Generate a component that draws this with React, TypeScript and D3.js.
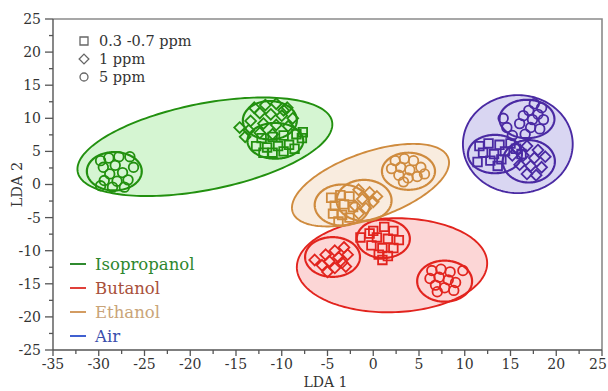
import * as React from "react";
import * as d3 from "d3";

type P = [number, number];

// confidence ellipses: center, semi-axis vectors (data units)
interface Ell {
  c: P;
  u: P;
  v: P;
}

const groups = ["Isopropanol", "Butanol", "Ethanol", "Air"];
const concentrations = ["0.3 -0.7 ppm", "1 ppm", "5 ppm"];

const bigEllipses: Ell[] = [
  { c: [-18.4, 5.7], u: [13.9, 3.8], v: [0.9, -6.4] },
  { c: [2.05, -12.2], u: [10.4, 0.3], v: [0, 7.1] },
  { c: [-0.3, -0.1], u: [8.5, 4.1], v: [1.19, -4.7] },
  { c: [15.8, 6.1], u: [6.0, 0], v: [0, 7.4] },
];

// small clusters: [group, concentration index, ellipse]
const clusters: [number, number, Ell][] = [
  [0, 2, { c: [-28.3, 2.0], u: [3.0, 0], v: [0, 2.9] }],
  [0, 1, { c: [-11.3, 9.7], u: [2.95, 0], v: [0, 2.9] }],
  [0, 0, { c: [-10.7, 6.6], u: [3.05, 0], v: [0, 2.7] }],
  [1, 1, { c: [-4.45, -10.95], u: [3.0, 0], v: [0, 3.0] }],
  [1, 0, { c: [1.1, -8.2], u: [2.9, 0], v: [0, 2.9] }],
  [1, 2, { c: [7.8, -14.6], u: [3.0, 0], v: [0, 3.1] }],
  [2, 0, { c: [-3.4, -3.1], u: [3.0, 0], v: [0, 3.1] }],
  [2, 1, { c: [-1.0, -2.4], u: [3.0, 0], v: [0, 3.1] }],
  [2, 2, { c: [3.85, 2.0], u: [2.9, 0], v: [0, 2.8] }],
  [3, 2, { c: [16.8, 9.9], u: [3.0, 0], v: [0, 2.9] }],
  [3, 0, { c: [13.3, 4.6], u: [2.95, 0], v: [0, 2.9] }],
  [3, 1, { c: [17.0, 3.5], u: [2.85, 0], v: [0, 3.2] }],
];

// points per group and concentration (0: squares, 1: diamonds, 2: circles)
const isoCircles: P[] = [
  [-29.8, 3.6], [-28.9, 4.0], [-27.8, 4.2], [-26.6, 4.2], [-29.5, 2.6], [-28.2, 2.9],
  [-27.4, 1.8], [-28.8, 1.6], [-29.4, 0.6], [-28.0, 0.5], [-26.8, 0.7], [-27.2, -0.4],
  [-28.5, -0.4], [-29.8, -0.2], [-26.2, 2.6],
];
const isoDiamonds: P[] = [
  [-13.0, 11.6], [-11.8, 12.0], [-10.6, 12.2], [-9.4, 11.6], [-12.4, 10.8], [-11.2, 10.6],
  [-10.0, 10.4], [-8.8, 10.0], [-13.4, 9.6], [-12.0, 9.2], [-10.6, 9.0], [-9.3, 8.8],
  [-14.6, 8.6], [-13.6, 8.2], [-12.4, 7.8], [-11.0, 7.6], [-14.0, 7.2], [-9.8, 11.2],
];
const isoSquares: P[] = [
  [-12.2, 7.0], [-11.0, 7.2], [-9.8, 7.4], [-8.4, 7.6], [-12.8, 5.8], [-11.6, 5.6],
  [-10.4, 5.8], [-9.2, 6.0], [-7.8, 7.0], [-11.0, 4.8], [-9.8, 5.0], [-12.0, 4.8],
  [-8.6, 5.4], [-7.7, 7.9],
];
const ethCircles: P[] = [
  [2.4, 3.6], [3.4, 3.9], [4.4, 3.6], [2.0, 2.4], [3.0, 2.6], [4.0, 2.2], [5.2, 2.6],
  [2.8, 1.4], [3.8, 1.0], [4.8, 1.2], [5.6, 1.6], [3.3, 0.4],
];
const ethSquares: P[] = [
  [-4.6, -2.0], [-3.6, -1.6], [-2.6, -1.8], [-4.2, -3.2], [-3.2, -3.0], [-2.2, -3.4],
  [-4.4, -4.4], [-3.4, -4.6], [-2.6, -5.0], [-3.8, -5.6],
];
const ethDiamonds: P[] = [
  [-1.6, -0.8], [-0.4, -1.2], [-1.2, -2.2], [0.0, -2.6], [-2.0, -3.2], [-0.8, -3.6],
  [0.4, -1.8], [-1.6, -4.4],
];
const butDiamonds: P[] = [
  [-3.2, -9.5], [-4.2, -10.0], [-2.8, -10.6], [-5.2, -10.6], [-3.8, -11.0], [-6.4, -11.4],
  [-4.8, -11.6], [-3.4, -11.8], [-5.6, -12.2], [-4.2, -12.6], [-3.0, -12.4], [-5.0, -13.2],
];
const butSquares: P[] = [
  [-1.4, -8.0], [0.0, -7.0], [1.2, -6.4], [2.2, -7.0], [0.4, -8.0], [1.6, -8.2], [2.8, -8.4],
  [-0.2, -9.2], [1.0, -9.6], [2.2, -9.6], [0.6, -10.6], [1.6, -10.8], [1.0, -11.4], [-0.4, -7.4],
];
const butCircles: P[] = [
  [6.4, -13.0], [7.4, -12.8], [8.4, -13.2], [9.8, -13.0], [6.2, -14.2], [7.2, -14.0],
  [8.2, -14.4], [9.0, -14.8], [6.8, -15.2], [7.8, -15.6], [8.8, -16.0], [7.0, -16.2],
];
const airCircles: P[] = [
  [17.6, 12.2], [18.4, 11.6], [17.0, 11.2], [18.0, 10.6], [16.4, 10.4], [17.4, 9.8],
  [18.6, 9.8], [16.0, 9.2], [17.2, 8.6], [18.2, 8.4], [14.2, 10.0], [14.6, 8.6],
  [16.6, 7.6], [15.2, 7.4],
];
const airSquares: P[] = [
  [11.6, 5.8], [12.6, 6.2], [13.8, 6.0], [15.0, 6.2], [12.0, 4.8], [13.2, 4.6], [14.4, 5.0],
  [15.6, 5.4], [12.8, 3.6], [14.0, 3.8], [11.4, 3.4], [13.6, 2.8], [16.2, 4.6],
];
const airDiamonds: P[] = [
  [15.6, 5.6], [16.8, 5.8], [18.0, 5.2], [15.2, 4.4], [16.4, 4.4], [17.6, 4.0], [18.8, 4.2],
  [16.0, 3.0], [17.2, 2.8], [18.4, 2.6], [16.8, 1.6], [17.8, 1.4],
];

const points: P[][][] = [
  [isoSquares, isoDiamonds, isoCircles],
  [butSquares, butDiamonds, butCircles],
  [ethSquares, ethDiamonds, ethCircles],
  [airSquares, airDiamonds, airCircles],
];

const xTicks = d3.range(-35, 26, 5);
const yTicks = d3.range(-25, 26, 5);

const strokeColors = ["#22900f", "#e2241e", "#cf8b3e", "#4a2aa3"];
const fillColors = ["#2ecc1f", "#f03030", "#e0a060", "#4030c0"];
const legendLine = ["#2f8a2f", "#e0403a", "#d39c62", "#4060d0"];
const legendText = ["#2d862d", "#a8503a", "#c9a478", "#3a4eac"];

const W = 608;
const H = 391;
const mL = 53;
const mR = 6;
const mT = 19;
const mB = 41;
const font = "'DejaVu Serif', serif";

const markerPath = (kind: number, s: number) => {
  if (kind === 0) return `M${-s},${-s}h${2 * s}v${2 * s}h${-2 * s}Z`;
  if (kind === 1) {
    const d = s * 1.35;
    return `M0,${-d}L${d},0L0,${d}L${-d},0Z`;
  }
  return `M${s},0A${s},${s} 0 1 1 ${-s},0A${s},${s} 0 1 1 ${s},0Z`;
};

const App: React.FC = () => {
  const x = d3.scaleLinear().domain([-35, 25]).range([mL, W - mR]);
  const y = d3.scaleLinear().domain([-25, 25]).range([H - mB, mT]);

  const ellPath = (e: Ell) => {
    const ts = d3.range(0, 2 * Math.PI, Math.PI / 90);
    return (
      d3
        .line<number>()
        .x((t) => x(e.c[0] + Math.cos(t) * e.u[0] + Math.sin(t) * e.v[0]))
        .y((t) => y(e.c[1] + Math.cos(t) * e.u[1] + Math.sin(t) * e.v[1]))
        .curve(d3.curveLinearClosed)(ts) || ""
    );
  };

  const x0 = x(-35);
  const x1 = x(25);
  const y0 = y(-25);
  const y1 = y(25);
  const axisColor = "#555";

  return (
    <svg
      width={W}
      height={H}
      style={{ position: "absolute", left: 0, top: 0, background: "#fff" }}
    >
      {/* confidence regions */}
      {bigEllipses.map((e, i) => (
        <path
          key={"b" + i}
          d={ellPath(e)}
          fill={fillColors[i]}
          fillOpacity={0.2}
          stroke={strokeColors[i]}
          strokeWidth={1.9}
        />
      ))}
      {clusters.map(([g, k, e], i) => (
        <path
          key={"c" + i}
          d={ellPath(e)}
          fill="none"
          stroke={strokeColors[g]}
          strokeWidth={2.2}
        />
      ))}
      {points.map((byConc, g) =>
        byConc.map((pts, k) =>
          pts.map((p, i) => (
            <path
              key={`${g}-${k}-${i}`}
              transform={`translate(${x(p[0])},${y(p[1])})`}
              d={markerPath(k, k === 2 ? 4.8 : k === 1 ? 4.0 : 4.3)}
              fill="none"
              stroke={strokeColors[g]}
              strokeWidth={1.8}
            />
          ))
        )
      )}

      {/* frame */}
      <path
        d={`M${x0},${y1}H${x1}V${y0}`}
        fill="none"
        stroke="#8a8a8a"
        strokeWidth={1.6}
      />
      <line x1={x0} x2={x1} y1={y0} y2={y0} stroke={axisColor} strokeWidth={1.4} />
      <line x1={x0} x2={x0} y1={y0} y2={y1} stroke={axisColor} strokeWidth={1.4} />

      {/* x axis */}
      {d3.range(-35, 25.1, 2.5).map((v) => {
        const major = v % 5 === 0;
        return (
          <line
            key={"xt" + v}
            x1={x(v)}
            x2={x(v)}
            y1={y0}
            y2={y0 + (major ? 6 : 4)}
            stroke={axisColor}
            strokeWidth={1.3}
          />
        );
      })}
      {xTicks.map((v) => (
        <text
          key={"xl" + v}
          x={Math.min(x(v), W - 10)}
          y={y0 + 19}
          textAnchor="middle"
          fontFamily={font}
          fontSize={14}
          fill="#333"
        >
          {v}
        </text>
      ))}

      {/* y axis */}
      {d3.range(-25, 25.1, 2.5).map((v) => {
        const major = v % 5 === 0;
        return (
          <line
            key={"yt" + v}
            x1={x0 - (major ? 8 : 4)}
            x2={x0}
            y1={y(v)}
            y2={y(v)}
            stroke={axisColor}
            strokeWidth={1.3}
          />
        );
      })}
      {yTicks.map((v) => (
        <text
          key={"yl" + v}
          x={x0 - 12}
          y={y(v)}
          dy="0.35em"
          textAnchor="end"
          fontFamily={font}
          fontSize={14}
          fill="#333"
        >
          {v}
        </text>
      ))}

      <text
        x={(x0 + x1) / 2 - 2}
        y={H - 4}
        textAnchor="middle"
        fontFamily={font}
        fontSize={14}
        fill="#333"
      >
        LDA 1
      </text>
      <text
        transform={`translate(22,${(y0 + y1) / 2}) rotate(-90)`}
        textAnchor="middle"
        fontFamily={font}
        fontSize={14.5}
        fill="#333"
      >
        LDA 2
      </text>

      {/* concentration legend */}
      {concentrations.map((c, k) => (
        <g key={"cl" + k} transform={`translate(84,${41 + k * 18})`}>
          <path
            d={markerPath(k, k === 1 ? 3.6 : 4)}
            fill="none"
            stroke="#666"
            strokeWidth={1.3}
          />
          <text
            x={15}
            dy="0.35em"
            fontFamily={font}
            fontSize={14.5}
            fill="#333"
          >
            {c}
          </text>
        </g>
      ))}

      {/* group legend */}
      {groups.map((g, i) => (
        <g key={"gl" + i} transform={`translate(70,${264 + i * 24})`}>
          <line x1={0} x2={16} y1={0} y2={0} stroke={legendLine[i]} strokeWidth={2} />
          <text
            x={25}
            dy="0.35em"
            fontFamily={font}
            fontSize={16.5}
            fill={legendText[i]}
          >
            {g}
          </text>
        </g>
      ))}
    </svg>
  );
};

export default App;
